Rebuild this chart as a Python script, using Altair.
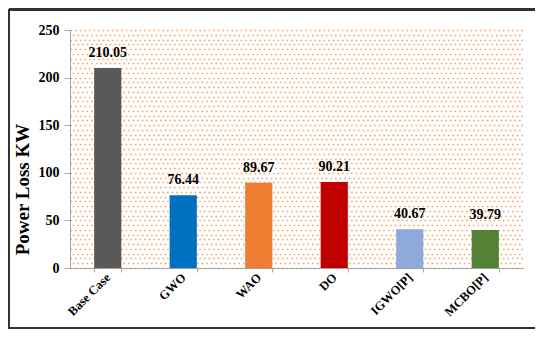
import altair as alt
import pandas as pd

methods = ["Base Case", "GWO", "WAO", "DO", "IGWO[P]", "MCBO[P]"]
losses = [210.05, 76.44, 89.67, 90.21, 40.67, 39.79]
colors = ["#595959", "#0070C0", "#ED7D31", "#C00000", "#8EA9DB", "#548235"]
y_ticks = [0, 50, 100, 150, 200, 250]
dots_a = list(range(0, 251, 10))
dots_b = list(range(5, 251, 10))

df = pd.DataFrame({"Method": methods, "Loss": losses, "Label": [f"{v:.2f}" for v in losses]})

FONT = "Liberation Serif"
W, H = 453, 238

def yscale():
    return alt.Scale(domain=[0, 250], nice=False, zero=True)

xenc = alt.X("Method:N", sort=methods,
             scale=alt.Scale(paddingInner=0.64, paddingOuter=0.32),
             axis=alt.Axis(title=None, labelAngle=-45, labelAlign="right", labelBaseline="middle",
                           labelFont=FONT, labelFontWeight="bold", labelFontSize=12.5, labelColor="black",
                           tickBand="extent", tickSize=4, tickColor="#a6a6a6", domainColor="#a6a6a6",
                           labelPadding=3, grid=False))

def dots(vals, offset):
    return alt.Chart(df).mark_point(opacity=0).encode(
        y=alt.Y("Loss:Q", scale=yscale(),
                axis=alt.Axis(orient="left", values=vals, grid=True, labels=False, ticks=False, domain=False,
                              title=None, gridColor="#F29450", gridWidth=1.6, gridDash=[1.6, 3.0],
                              gridDashOffset=offset, gridOpacity=0.85))
    )

frame = alt.Chart(df).mark_rect(fill=None, stroke="#333333", strokeWidth=2).encode(
    x=alt.value(-61), x2=alt.value(W + 19), y=alt.value(-20), y2=alt.value(H + 60)
)
frame_top = alt.Chart(df).mark_rule(stroke="#333333", strokeWidth=2).encode(
    x=alt.value(-61), x2=alt.value(W + 19), y=alt.value(-21)
)

base = alt.Chart(df).encode(
    x=xenc,
    y=alt.Y("Loss:Q", scale=yscale(),
            axis=alt.Axis(orient="left", values=y_ticks, grid=False, title="Power Loss KW",
                          titleFont=FONT, titleFontSize=19, titleFontWeight="bold", titleColor="black",
                          titlePadding=6, titleY=159,
                          labelFont=FONT, labelFontSize=14, labelFontWeight="bold", labelColor="black",
                          tickSize=6, tickColor="#a6a6a6", domainColor="#a6a6a6", labelPadding=5)),
)

bars = base.mark_bar().encode(
    color=alt.Color("Method:N", sort=methods, scale=alt.Scale(domain=methods, range=colors), legend=None),
)

labels = base.mark_text(font=FONT, fontSize=14, fontWeight="bold", baseline="bottom", dy=-8,
                        color="black").encode(text="Label:N")

main = alt.layer(bars, labels)

chart = alt.layer(dots(dots_a, 0), dots(dots_b, 2.3), main, frame, frame_top).resolve_scale(
    y="independent"
).resolve_axis(y="independent").properties(
    width=W, height=H,
    autosize=alt.AutoSizeParams(type="none"),
    padding={"left": 62, "top": 22, "right": 12, "bottom": 64},
    background="white",
).configure_view(stroke=None)

chart.save("out.html", embed_options={"renderer": "svg", "actions": False})
